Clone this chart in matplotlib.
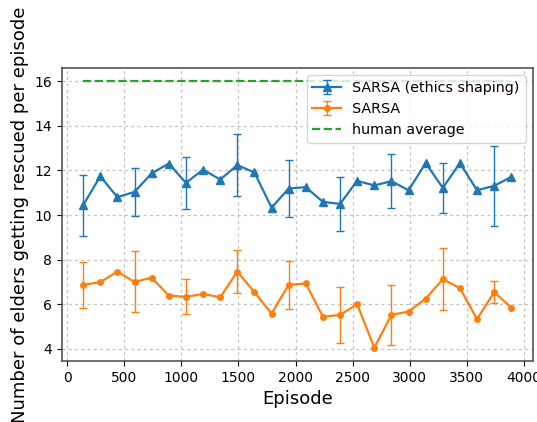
import matplotlib
matplotlib.use("Agg")
import matplotlib.pyplot as plt
import numpy as np

episodes = [140, 290, 440, 590, 740, 890, 1040, 1190, 1340, 1490, 1640, 1790, 1940,
            2090, 2240, 2390, 2540, 2690, 2840, 2990, 3140, 3290, 3440, 3590, 3740, 3890]

ethics = [10.44, 11.74, 10.80, 11.04, 11.87, 12.31, 11.44, 12.04, 11.59, 12.24, 11.91, 10.33, 11.19,
          11.25, 10.59, 10.50, 11.53, 11.33, 11.52, 11.11, 12.33, 11.22, 12.33, 11.11, 11.31, 11.71]
sarsa = [6.87, 6.99, 7.46, 7.00, 7.19, 6.39, 6.33, 6.46, 6.31, 7.46, 6.54, 5.58, 6.87,
         6.93, 5.44, 5.52, 6.00, 4.05, 5.52, 5.67, 6.25, 7.12, 6.72, 5.33, 6.54, 5.85]

# error bars shown every third point (indices 0, 3, 6, ..., 24)
ethics_err_shown = [1.37, 1.07, 1.15, 1.40, 1.28, 1.20, 1.20, 1.12, 1.78]
sarsa_err_shown = [1.03, 1.37, 0.79, 0.96, 1.09, 1.27, 1.33, 1.38, 0.49]

human_average = 16.0

n = len(episodes)
ethics_err = np.zeros(n)
sarsa_err = np.zeros(n)
ethics_err[::3] = ethics_err_shown
sarsa_err[::3] = sarsa_err_shown

fig = plt.figure(figsize=(5.37, 4.22), dpi=100)
ax = fig.add_axes([0.115, 0.1445, 0.877, 0.6945])

h1 = ax.errorbar(episodes, ethics, yerr=ethics_err, errorevery=3, color='#1f77b4',
                 marker='^', markersize=6, linewidth=1.6, elinewidth=1, capsize=3,
                 label='SARSA (ethics shaping)', zorder=3)
h2 = ax.errorbar(episodes, sarsa, yerr=sarsa_err, errorevery=3, color='#ff7f0e',
                 marker='.', markersize=8, linewidth=1.6, elinewidth=1, capsize=3,
                 label='SARSA', zorder=3)
h3, = ax.plot([episodes[0], episodes[-1]], [human_average, human_average], '--',
              color='#2ca02c', linewidth=1.6, label='human average')

ax.set_xticks([0, 500, 1000, 1500, 2000, 2500, 3000, 3500, 4000])
ax.set_yticks([4, 6, 8, 10, 12, 14, 16])
ax.grid(True, linestyle=(0, (2.5, 2.5)), color='#c4c4c4', linewidth=0.9)
for s in ax.spines.values():
    s.set_color('#555555')
    s.set_linewidth(1.2)
ax.tick_params(labelsize=10)
ax.set_xlabel('Episode', fontsize=13)
ax.set_ylabel('Number of elders getting rescued per episode', fontsize=13)
ax.legend(handles=[h1, h2, h3], loc='upper right', fontsize=10.3)

fig.savefig('out.png', dpi=100)
